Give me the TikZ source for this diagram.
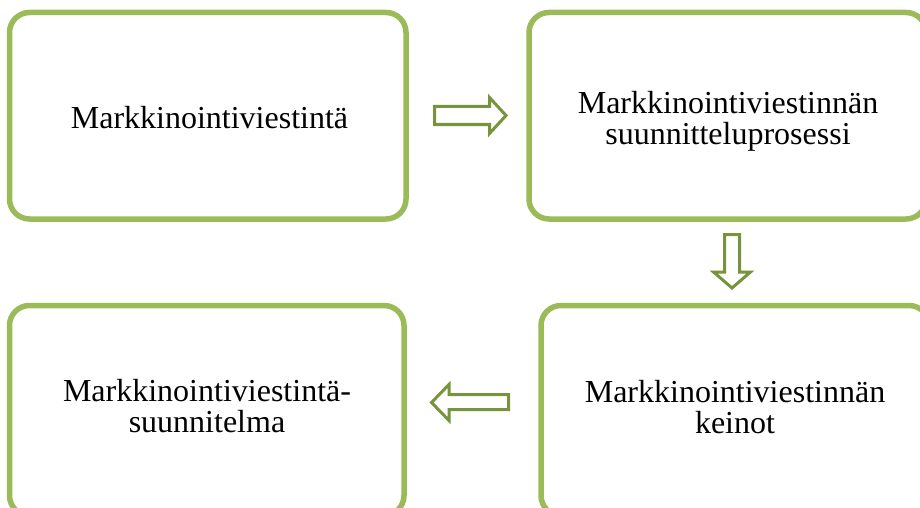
\documentclass[tikz,border=0pt]{standalone}
\usepackage{fontspec}
\setmainfont{Liberation Serif}
\definecolor{boxgreen}{HTML}{9BBB59}
\definecolor{arrowgreen}{HTML}{77933C}
\begin{document}
\begin{tikzpicture}[x=1pt,y=-1pt,
  box/.style={draw=boxgreen, line width=5.5pt, rounded corners=20pt, fill=none, inner sep=0pt},
  label/.style={align=center, inner sep=0pt, font=\rmfamily\fontsize{32}{31}\selectfont},
  blockarrow/.style={draw=arrowgreen, line width=3pt, fill=white, line join=miter}]
\useasboundingbox (0,0) rectangle (920,508);
\clip (0,0) rectangle (920,508);
\node[box, minimum width=396.5pt, minimum height=206.5pt] (b1) at (207.75,115.75) {};
\node[box, minimum width=397pt, minimum height=206.5pt] (b2) at (727.5,115.75) {};
\node[box, minimum width=394.5pt, minimum height=210pt] (b3) at (206.75,410.5) {};
\node[box, minimum width=388pt, minimum height=210pt] (b4) at (735,410.5) {};
\node[label] (t1) at (209.5,118) {Markkinointiviestintä};
\node[label] (t2) at (728,121) {Markkinointiviestinnän\\suunnitteluprosessi};
\node[label] (t3) at (207,406) {Markkinointiviestintä-\\suunnitelma};
\node[label] (t4) at (735,407) {Markkinointiviestinnän\\keinot};
% right arrow
\draw[blockarrow] (434.5,106.5) -- (489.5,106.5) -- (489.5,97.5) -- (506,115.5) -- (489.5,133.5) -- (489.5,124.5) -- (434.5,124.5) -- cycle;
% down arrow
\draw[blockarrow] (724.5,234.5) -- (739.5,234.5) -- (739.5,272) -- (750.5,272) -- (732,288) -- (713.5,272) -- (724.5,272) -- cycle;
% left arrow
\draw[blockarrow] (508.5,394.5) -- (449,394.5) -- (449,384.5) -- (431.5,402.5) -- (449,420.5) -- (449,409.5) -- (508.5,409.5) -- cycle;
\end{tikzpicture}
\end{document}
